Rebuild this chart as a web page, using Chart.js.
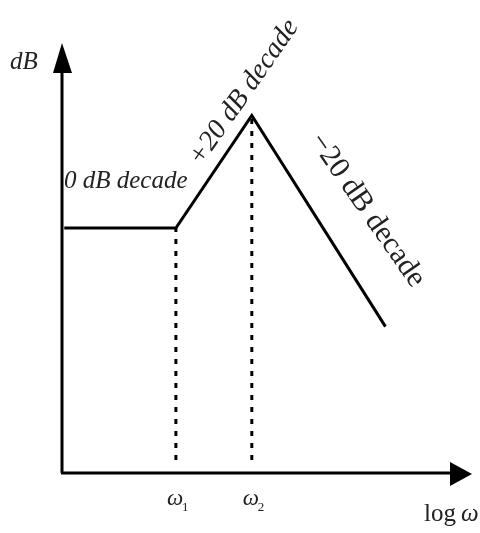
<!DOCTYPE html>
<html>
<head>
<meta charset="utf-8">
<script src="https://cdn.jsdelivr.net/npm/chart.js@4"></script>
<style>
    html, body { margin: 0; padding: 0; background: #fff; }
    #wrap { width: 480px; height: 533px; }
</style>
</head>
<body>
<div id="wrap"><canvas id="bode"></canvas></div>
<script>
// asymptotic magnitude, x in decades from origin, y in dB-ish units
const breakX = [0.03, 1.5, 2.5, 4.26];
const magDb = [43.5, 43.5, 63.5, 26];
const cornerLabels = ['ω', 'ω'];
const cornerSubs = ['1', '2'];
const cornerX = [1.5, 2.5];
const dashBottom = 2.3;
const slopeLabels = ['0 dB decade', '+20 dB decade', '−20 dB decade'];

const X_MAX = 5.4, Y_MAX = 76;

const curve = breakX.map((x, i) => ({ x: x, y: magDb[i] }));
const guides = cornerX.map((x, i) => ({
    type: 'line',
    data: [{ x: x, y: dashBottom }, { x: x, y: magDb[i + 1] }],
    borderColor: '#000',
    borderWidth: 3,
    borderDash: [5, 7],
    pointRadius: 0,
}));

const serif = '"Liberation Serif", "Times New Roman", serif';

const sketchPlugin = {
    id: 'sketch',
    afterDatasetsDraw(chart) {
        const ctx = chart.ctx;
        const area = chart.chartArea;
        const xs = chart.scales.x, ys = chart.scales.y;
        const ox = xs.getPixelForValue(0), oy = ys.getPixelForValue(0);
        ctx.save();
        ctx.fillStyle = '#000';
        ctx.strokeStyle = '#000';
        ctx.lineWidth = 3;
        // axes
        ctx.beginPath();
        ctx.moveTo(ox, oy);
        ctx.lineTo(ox, area.top + 25);
        ctx.moveTo(ox - 1, oy);
        ctx.lineTo(area.right - 20, oy);
        ctx.stroke();
        // arrow heads
        ctx.beginPath();
        ctx.moveTo(ox, area.top - 2);
        ctx.lineTo(ox - 9, area.top + 28);
        ctx.lineTo(ox + 10, area.top + 28);
        ctx.closePath();
        ctx.fill();
        ctx.beginPath();
        ctx.moveTo(area.right, oy + 1);
        ctx.lineTo(area.right - 22, oy - 11);
        ctx.lineTo(area.right - 22, oy + 13);
        ctx.closePath();
        ctx.fill();

        ctx.fillStyle = '#222';
        ctx.textBaseline = 'alphabetic';
        ctx.textAlign = 'left';
        ctx.font = 'italic 25px ' + serif;
        ctx.fillText('dB', 10, 69);
        // corner frequency labels
        cornerX.forEach((x, i) => {
            const px = xs.getPixelForValue(x);
            ctx.font = 'italic 23px ' + serif;
            ctx.fillText(cornerLabels[i], px - 9, 505);
            ctx.font = '13px ' + serif;
            ctx.fillText(cornerSubs[i], px + 6, 511);
        });
        ctx.font = '25px ' + serif;
        ctx.fillText('log', 424, 521);
        ctx.font = 'italic 25px ' + serif;
        ctx.fillText('ω', 461, 521);

        // slope labels
        ctx.font = 'italic 25px ' + serif;
        ctx.fillText(slopeLabels[0], 64, 188);
        ctx.save();
        ctx.translate(201, 167);
        ctx.rotate(-55 * Math.PI / 180);
        ctx.font = 'italic 28px ' + serif;
        ctx.fillText(slopeLabels[1], 0, 0);
        ctx.restore();
        ctx.save();
        ctx.translate(309, 141);
        ctx.rotate(55 * Math.PI / 180);
        ctx.font = '30px ' + serif;
        ctx.fillText(slopeLabels[2], 0, 0);
        ctx.restore();
        ctx.restore();
    }
};

new Chart(document.getElementById('bode'), {
    type: 'scatter',
    data: {
        datasets: [{
            type: 'line',
            data: curve,
            borderColor: '#000',
            borderWidth: 3,
            pointRadius: 0,
            tension: 0,
        }, ...guides]
    },
    options: {
        responsive: true,
        maintainAspectRatio: false,
        animation: false,
        layout: { padding: { left: 62, right: 8, top: 45, bottom: 60 } },
        plugins: { legend: { display: false }, tooltip: { enabled: false } },
        scales: {
            x: { type: 'linear', min: 0, max: X_MAX, display: false },
            y: { type: 'linear', min: 0, max: Y_MAX, display: false }
        }
    },
    plugins: [sketchPlugin]
});
</script>
</body>
</html>
